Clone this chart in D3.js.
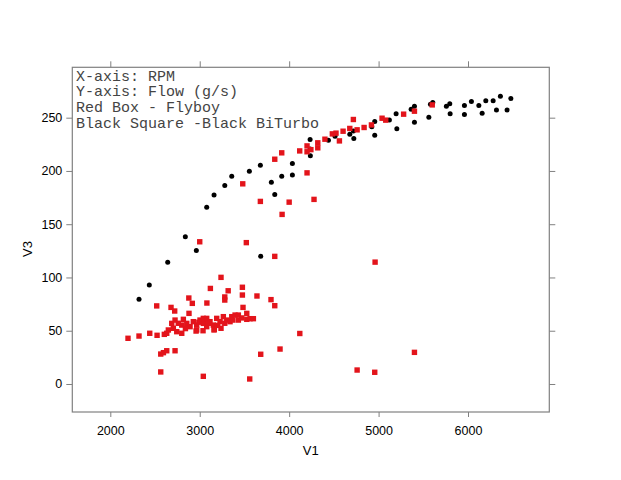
<!DOCTYPE html>
<html>
<head>
<meta charset="utf-8">
<script src="https://cdn.jsdelivr.net/npm/d3@7"></script>
<style>
  body { margin: 0; background: #fff; }
  svg { display: block; }
</style>
</head>
<body>
<div id="graph"></div>
<script>
// Black BiTurbo: RPM and flow (g/s)
var blackRpm = [2321, 2436, 2642, 2839, 2962, 3078, 3160, 3280, 3358, 3555, 3678, 3682, 3801, 3839,
  3917, 4036, 4036, 4234, 4234, 4237, 4439, 4513, 4678, 4718, 4723, 4924, 4957, 4957, 5121, 5196,
  5204, 5364, 5401, 5401, 5562, 5580, 5606, 5758, 5796, 5800, 5960, 5960, 6038, 6121, 6158, 6199,
  6281, 6318, 6362, 6437, 6479];
var blackFlow = [79.5, 92.9, 114.2, 138.2, 125.4, 165.8, 177.3, 186.4, 195.1, 199.8, 205.4, 119.8, 189.5, 178.0,
  195.1, 196.3, 207, 229.5, 220.7, 214.2, 228.9, 232.6, 234.5, 237.6, 230.5, 241.4, 233.6, 246.4, 247.9, 253.6,
  239.5, 258, 260.8, 245.8, 250.5, 262.7, 264.3, 260.8, 263, 253.6, 261.4, 253, 265.2, 261.4, 254.2, 265.8,
  265.8, 257.3, 270.2, 257.3, 268];

// Flyboy: RPM and flow (g/s)
var redRpm = [3000, 3481, 3521, 3678, 3839, 3921, 4000, 3839, 3917, 4118, 4200, 4200, 4243, 4320, 4320,
  4400, 4483, 4524, 4562, 4603, 4678, 4718, 4760, 4838, 4920, 5039, 5080, 5280, 5401, 5600, 4200, 4278, 4961,
  3238, 3119, 3318, 3477, 3477, 3280, 3280, 3640, 3797, 3839, 2878, 2917, 3080, 2519, 2679, 2720, 2880, 3484,
  2198, 2321, 2441, 2523, 2604, 2649, 2687, 2724, 2631, 2705, 2743, 2799, 2799, 2817, 2855, 2892, 2928, 2966,
  2966, 3003, 3040, 3040, 3078, 3078, 3115, 3152, 3163, 3190, 3227, 3238, 3264, 3302, 3339, 3358, 3395, 3432,
  3432, 3526, 3526, 3563, 3600, 2959, 3037, 3160, 2760, 2840, 2990, 3100, 3200, 3280, 3370, 3470,
  2564, 2594, 2631, 2724, 2564, 3040, 3559, 3682, 3898, 4119, 4760, 4957, 5401];
var redFlow = [133.5, 187.9, 132.7, 171.4, 119.8, 159.2, 170.7, 211, 217, 218.8, 223.5, 218, 220, 226.4, 221.7,
  229.8, 234.8, 235.5, 228.2, 237.3, 239.9, 248.3, 238.6, 240.8, 243.2, 249.5, 247.7, 253.3, 256.1, 262, 198.2, 173.3, 114.4,
  100.1, 89.7, 87.5, 90.8, 83.5, 81.7, 78.8, 82.6, 79.2, 73.5, 80.7, 75.7, 76, 73.3, 71.9, 68.5, 66.3, 71.9,
  42.9, 45, 47.6, 45.7, 46.6, 50.7, 56.9, 60, 47.6, 52.3, 49.1, 47.6, 55.3, 60.7, 56.9, 53.8, 58.5, 55.3,
  50.7, 60, 56.9, 61.6, 53.8, 61.6, 58.5, 55.3, 51.3, 61.6, 58.5, 52.3, 63.2, 60, 58.5, 63.2, 64.7, 60,
  64.7, 66.3, 60.7, 61.3, 61.3, 49.7, 50, 50.7, 57, 52, 58, 57, 55, 57, 60, 62,
  28.1, 29.4, 31.2, 31.2, 11.3, 7.2, 4.7, 27.9, 32.8, 47.4, 13.1, 11, 29.7];

var xTicks = [2000, 3000, 4000, 5000, 6000];
var yTicks = [0, 50, 100, 150, 200, 250];
var notes = ["X-axis: RPM", "Y-axis: Flow (g/s)", "Red Box - Flyboy", "Black Square -Black BiTurbo"];

var W = 621, H = 480;
var pLeft = 72.3, pRight = 549.3, pTop = 67.3, pBottom = 412;

var svg = d3.select("#graph").append("svg")
    .attr("width", W)
    .attr("height", H);

var x = d3.scaleLinear().domain([1575, 6909]).range([pLeft, pRight]);
var y = d3.scaleLinear().domain([-26.3, 297.3]).range([pBottom, pTop]);

var frame = "#808080";
var fmt = d3.format("d");

// axes on all four sides, labels only left and bottom
svg.append("g")
    .attr("transform", "translate(0," + pBottom + ")")
    .call(d3.axisBottom(x).tickValues(xTicks).tickFormat(fmt).tickSize(5).tickPadding(9).tickSizeOuter(0))
    .call(function(g) { g.select(".domain").remove(); });
svg.append("g")
    .attr("transform", "translate(0," + pTop + ")")
    .call(d3.axisTop(x).tickValues(xTicks).tickSize(6).tickFormat("").tickSizeOuter(0))
    .call(function(g) { g.select(".domain").remove(); });
svg.append("g")
    .attr("transform", "translate(" + pLeft + ",0)")
    .call(d3.axisLeft(y).tickValues(yTicks).tickFormat(fmt).tickSize(6).tickPadding(4).tickSizeOuter(0))
    .call(function(g) { g.select(".domain").remove(); });
svg.append("g")
    .attr("transform", "translate(" + pRight + ",0)")
    .call(d3.axisRight(y).tickValues(yTicks).tickSize(6).tickFormat("").tickSizeOuter(0))
    .call(function(g) { g.select(".domain").remove(); });

svg.selectAll(".tick line").attr("stroke", frame);
svg.selectAll(".tick text")
    .attr("fill", "#000")
    .style("font-family", "Liberation Sans, Arial, sans-serif")
    .style("font-size", "12.5px");

svg.append("rect")
    .attr("x", pLeft)
    .attr("y", pTop)
    .attr("width", pRight - pLeft)
    .attr("height", pBottom - pTop)
    .attr("fill", "none")
    .attr("stroke", frame)
    .attr("stroke-width", 1.2);

// axis titles
svg.append("text")
    .attr("x", (pLeft + pRight) / 2)
    .attr("y", 455)
    .attr("text-anchor", "middle")
    .style("font-family", "Liberation Sans, Arial, sans-serif")
    .style("font-size", "13px")
    .text("V1");
svg.append("text")
    .attr("transform", "translate(32,249) rotate(-90)")
    .attr("text-anchor", "middle")
    .style("font-family", "Liberation Sans, Arial, sans-serif")
    .style("font-size", "13px")
    .text("V3");

// points
var black = blackRpm.map(function(d, i) { return {rpm: d, flow: blackFlow[i]}; });
var red = redRpm.map(function(d, i) { return {rpm: d, flow: redFlow[i]}; });

svg.selectAll(".blk")
    .data(black)
  .enter().append("circle")
    .attr("class", "blk")
    .attr("cx", function(d) { return x(d.rpm); })
    .attr("cy", function(d) { return y(d.flow); })
    .attr("r", 2.5)
    .attr("fill", "#000");

var s = 5.4;
svg.selectAll(".red")
    .data(red)
  .enter().append("rect")
    .attr("class", "red")
    .attr("x", function(d) { return x(d.rpm) - s / 2; })
    .attr("y", function(d) { return y(d.flow) - s / 2; })
    .attr("width", s)
    .attr("height", s)
    .attr("fill", "#e3141b");

// note lines inside the panel
svg.selectAll(".note")
    .data(notes)
  .enter().append("text")
    .attr("class", "note")
    .attr("x", 76)
    .attr("y", function(d, i) { return 80.5 + i * 15.8; })
    .attr("fill", "#444")
    .style("font-family", "Liberation Mono, Courier New, monospace")
    .style("font-size", "15px")
    .style("white-space", "pre")
    .text(function(d) { return d; });
</script>
</body>
</html>
